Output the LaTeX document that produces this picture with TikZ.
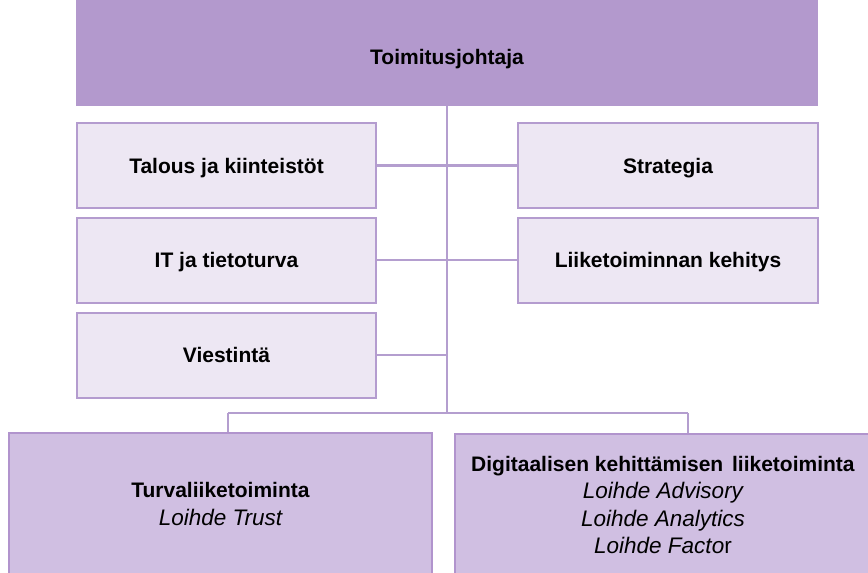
\documentclass[tikz,border=0pt]{standalone}
\usepackage{fontspec}
\setmainfont{Liberation Sans}
\definecolor{topfill}{HTML}{B399CD}
\definecolor{smallfill}{HTML}{EDE7F3}
\definecolor{smallline}{HTML}{B49CCF}
\definecolor{botfill}{HTML}{D0BFE2}
\definecolor{botline}{HTML}{B194CD}
\definecolor{connline}{HTML}{B49ECF}
\newcommand{\subname}[1]{{\fontsize{22.5}{27.3}\selectfont\itshape #1}}
\begin{document}
\begin{tikzpicture}[x=1pt,y=-1pt,
  every node/.style={font=\fontsize{21}{27.3}\selectfont},
  topbox/.style={fill=topfill, draw=none, minimum width=742pt, minimum height=106pt,
    inner sep=0pt, text height=23pt, text depth=0pt, font=\fontsize{21}{27.3}\selectfont\bfseries},
  unitbox/.style={fill=smallfill, draw=smallline, line width=2pt, minimum width=299pt,
    minimum height=85pt, inner sep=0pt, text height=15pt, text depth=0pt,
    font=\fontsize{21}{27.3}\selectfont\bfseries},
  bizbox/.style={fill=botfill, draw=botline, line width=2pt, minimum height=142pt,
    inner sep=0pt, align=center},
  conn/.style={draw=connline, line width=2.5pt}
]
\useasboundingbox (0,0) rectangle (868,573);
\begin{scope}
\clip (0,0) rectangle (868,573);
\node[topbox] (ceo) at (447,53) {Toimitusjohtaja};

\node[unitbox] (talous) at (226.5,165.5) {Talous ja kiinteistöt};
\node[unitbox] (it) at (226.5,260) {IT ja tietoturva};
\node[unitbox] (viest) at (226.5,355) {Viestintä};
\node[unitbox, minimum width=300pt] (strat) at (668,165.5) {Strategia};
\node[unitbox, minimum width=300pt] (kehitys) at (668,260) {Liiketoiminnan kehitys};

\node[bizbox, minimum width=423pt] (trust) at (220.5,504)
  {\textbf{Turvaliiketoiminta}\\\subname{Loihde Trust}};
\node[bizbox, minimum width=416pt] (digi) at (663,505)
  {\textbf{Digitaalisen kehittämisen\hspace{3pt} liiketoiminta}\\\subname{Loihde Advisory}\\\subname{Loihde Analytics}\\\subname{Loihde Facto}{\fontsize{22.5}{27.3}\selectfont r}};

\coordinate (bus) at (447,413);
\coordinate (bl) at (228,413);
\coordinate (br) at (688,413);

\draw[conn] (ceo.south) -- (bus);
\draw[conn] (bl) -- (br);
\draw[conn] (bl) -- (bl |- trust.north);
\draw[conn] (br) -- (br |- digi.north);
\draw[conn] (talous.east) -- (talous.east -| bus);
\draw[conn] (it.east) -- (it.east -| bus);
\draw[conn] (viest.east) -- (viest.east -| bus);
\draw[conn] (strat.west) -- (strat.west -| bus);
\draw[conn] (kehitys.west) -- (kehitys.west -| bus);
\end{scope}
\end{tikzpicture}
\end{document}
